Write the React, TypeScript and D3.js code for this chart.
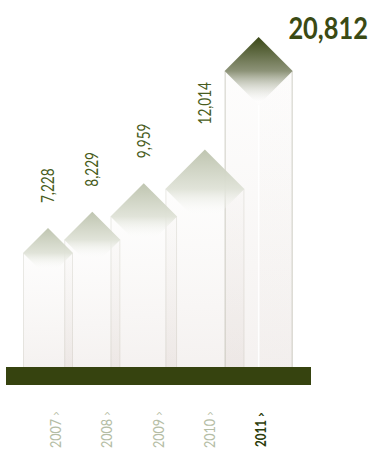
import React from "react";
import * as d3 from "d3";

const years = ["2007", "2008", "2009", "2010", "2011"];
const values = [7228, 8229, 9959, 12014, 20812];
const highlightYear = "2011";

const W = 373;
const H = 451;
const FONT = "Lato, 'Open Sans', 'DejaVu Sans Condensed', sans-serif";

// approximate condensed (Calibri-like) text length
function condensedLength(s: string, size: number, bold = false) {
  let w = 0;
  for (const ch of s) {
    if (/[0-9]/.test(ch)) w += 0.455;
    else if (ch === "," || ch === " ") w += 0.22;
    else w += 0.33;
  }
  return w * size * (bold ? 1.02 : 1);
}

export default function App() {
  const baseY = 367;
  const y = d3.scaleLinear().domain([0, d3.max(values) as number]).range([350, 71]);
  const hwScale = d3.scaleLinear().domain([values[0], values[3]]).range([25, 39.5]);
  const xLabel = d3.scalePoint<string>().domain(years).range([55, 260]);
  const fmt = d3.format(",");

  const items: any[] = [];
  let left = 23;
  years.forEach((yr, i) => {
    const v = values[i];
    const hl = yr === highlightYear;
    const hw = hl ? 34 : hwScale(v);
    if (i > 0) {
      const prev = items[i - 1];
      left = prev.left + prev.hw * (hl ? 1.5 : 1.65);
    }
    items.push({ yr, v, hl, hw, left, cx: left + hw, mid: y(v) });
  });
  const last = items[items.length - 1];

  return (
    <svg width={W} height={H} style={{ position: "absolute", left: 0, top: 0, display: "block" }}>
      <defs>
        <linearGradient id="colGrad" x1="0" y1="0" x2="0" y2="1">
          <stop offset="0" stopColor="rgb(225,218,212)" stopOpacity="0.06" />
          <stop offset="1" stopColor="rgb(215,203,198)" stopOpacity="0.26" />
        </linearGradient>
        <linearGradient id="diaGrad" x1="0" y1="0" x2="0" y2="1">
          <stop offset="0" stopColor="#bfc5b0" stopOpacity="1" />
          <stop offset="0.5" stopColor="#dfe2d7" stopOpacity="0.95" />
          <stop offset="0.85" stopColor="#ffffff" stopOpacity="0" />
        </linearGradient>
        <linearGradient id="diaGradHl" x1="0" y1="0" x2="0" y2="1">
          <stop offset="0" stopColor="#3a4816" stopOpacity="1" />
          <stop offset="0.5" stopColor="#8d9378" stopOpacity="1" />
          <stop offset="0.95" stopColor="#ffffff" stopOpacity="0.3" />
        </linearGradient>
      </defs>
      <rect x={0} y={0} width={W} height={H} fill="#ffffff" />
      {items.map((d) => (
        <g key={"c" + d.yr}>
          <rect x={d.left} y={d.mid} width={d.hw * 2} height={baseY - d.mid} fill="url(#colGrad)" />
          {d.hl && (
            <rect x={d.cx + 1} y={d.mid} width={d.hw - 1} height={baseY - d.mid} fill="url(#colGrad)" opacity={0.3} />
          )}
          <line x1={d.left + 0.5} x2={d.left + 0.5} y1={d.mid} y2={baseY} stroke="rgb(190,190,175)" strokeOpacity={d.hl ? 0.7 : 0.3} />
          <line x1={d.left + d.hw * 2 - 0.5} x2={d.left + d.hw * 2 - 0.5} y1={d.mid} y2={baseY} stroke="rgb(190,190,175)" strokeOpacity={d.hl ? 0.7 : 0.3} />
          {d.hl && (
            <line x1={d.cx} x2={d.cx} y1={d.mid + d.hw} y2={baseY} stroke="#ffffff" strokeWidth={1.5} strokeOpacity={0.9} />
          )}
        </g>
      ))}
      {items.map((d) => (
        <path
          key={"d" + d.yr}
          d={`M${d.cx},${d.mid - d.hw} L${d.cx + d.hw},${d.mid} L${d.cx},${d.mid + d.hw} L${d.left},${d.mid} Z`}
          fill={d.hl ? "url(#diaGradHl)" : "url(#diaGrad)"}
        />
      ))}
      <rect x={6} y={baseY} width={305} height={18} fill="#36430f" />
      {items.filter((d) => !d.hl).map((d) => {
        const s = fmt(d.v);
        return (
          <text
            key={"v" + d.yr}
            transform={`translate(${d.cx + 6},${d.mid - d.hw - 25}) rotate(-90)`}
            textAnchor="start"
            fontFamily={FONT}
            fontSize={17}
            fill="#485c20"
            textLength={condensedLength(s, 17)}
            lengthAdjust="spacingAndGlyphs"
          >
            {s}
          </text>
        );
      })}
      <text
        transform="translate(368,39) scale(0.82,1)"
        textAnchor="end"
        fontFamily={FONT}
        fontSize={31}
        fontWeight="bold"
        fill="#3a4a14"
      >
        {fmt(last.v)}
      </text>
      {years.map((yr) => {
        const hl = yr === highlightYear;
        const cx = (xLabel(yr) as number) + 6;
        const top = hl ? 411 : 410;
        const fill = hl ? "#2c3d0b" : "#b5bda5";
        return (
          <g key={"y" + yr}>
            <text
              transform={`translate(${cx},${top + 9}) rotate(-90)`}
              textAnchor="end"
              fontFamily={FONT}
              fontSize={16}
              fontWeight={hl ? "bold" : "normal"}
              fill={fill}
              textLength={hl ? condensedLength(yr, 16) - 2 : condensedLength(yr, 16)}
              lengthAdjust="spacingAndGlyphs"
            >
              {yr}
            </text>
            <text
              transform={`translate(${cx - 1},${top + 1}) rotate(-90)`}
              textAnchor="end"
              fontFamily="'DejaVu Sans', sans-serif"
              fontSize={hl ? 13 : 12}
              fontWeight={hl ? "bold" : "normal"}
              fill={fill}
            >
              ›
            </text>
          </g>
        );
      })}
    </svg>
  );
}
